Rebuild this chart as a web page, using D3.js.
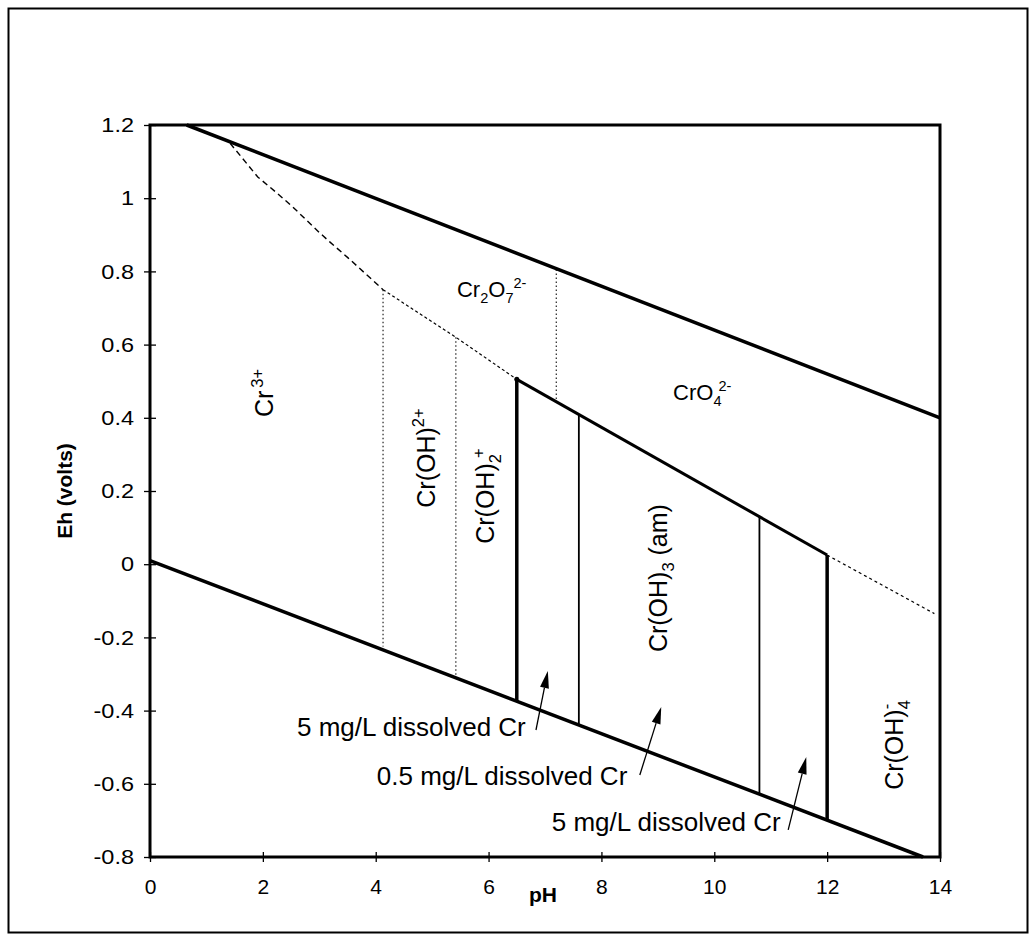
<!DOCTYPE html>
<html><head><meta charset="utf-8">
<script src="https://cdn.jsdelivr.net/npm/d3@7"></script>
<style>
html,body{margin:0;padding:0;background:#fff;}
svg{display:block;}
text{font-family:"Liberation Sans",Arial,Helvetica,sans-serif;fill:#000;}
</style></head><body>
<svg id="chart" width="1033" height="935"></svg>
<script>
// ---------- data ----------
const xDomain = [0, 14];
const yDomain = [-0.8, 1.2];
const xTicks = [0, 2, 4, 6, 8, 10, 12, 14];
const xTickLabels = ["0", "2", "4", "6", "8", "10", "12", "14"];
const yTicks = [-0.8, -0.6, -0.4, -0.2, 0, 0.2, 0.4, 0.6, 0.8, 1, 1.2];
const yTickLabels = ["-0.8", "-0.6", "-0.4", "-0.2", "0", "0.2", "0.4", "0.6", "0.8", "1", "1.2"];
const xLabel = "pH";
const yLabel = "Eh (volts)";

// boundary lines, [pH, Eh]
const upperWaterLine = [[0.65, 1.2], [14, 0.40]];
const lowerWaterLine = [[0, 0.01], [13.7, -0.8]];
const cr3Cr6Boundary = [[1.42, 1.15], [1.91, 1.058], [2.25, 1.014], [2.53, 0.976], [3.01, 0.905], [3.19, 0.88], [3.51, 0.837], [4.13, 0.75]];
const crOHCr6Boundary = [[4.13, 0.75], [5.42, 0.62], [6.5, 0.505]];
const crOH3Top = [[6.5, 0.505], [12.0, 0.025]];
const crOH4Cr6Boundary = [[12.0, 0.025], [13.9, -0.135]];

// vertical boundaries: [pH, Eh top, Eh bottom]
const dottedVerticals = [[4.13, 0.75, -0.225], [5.42, 0.62, -0.315], [7.2, 0.805, 0.45]];
const thickVerticals = [[6.5, 0.505, -0.375], [12.0, 0.025, -0.70]];
const thinVerticals = [[7.6, 0.41, -0.44], [10.8, 0.13, -0.63]];

// species labels: name parts, anchor [pH, Eh]
const rotatedSpecies = [
  {parts: [{t: "Cr"}, {t: "3+", sup: true, dx: 3}], at: [2.18, 0.468]},
  {parts: [{t: "Cr(OH)"}, {t: "2+", sup: true}], at: [5.05, 0.29]},
  {parts: [{t: "Cr(OH)"}, {t: "2", sub: true}, {t: "+", sup: true, dx: -4}], at: [6.10, 0.186]},
  {parts: [{t: "Cr(OH)"}, {t: "3", sub: true}, {t: " (am)"}], at: [9.16, -0.038]},
  {parts: [{t: "Cr(OH)"}, {t: "4", sub: true}, {t: "-", sup: true, dx: -9}], at: [13.34, -0.494]}
];
const flatSpecies = [
  {parts: [{t: "Cr"}, {t: "2", sub: true}, {t: "O"}, {t: "7", sub: true}, {t: "2-", sup: true}], at: [5.44, 0.730]},
  {parts: [{t: "CrO"}, {t: "4", sub: true}, {t: "2-", sup: true, dx: -3}], at: [9.27, 0.449]}
];
// concentration annotations: text, anchor [pH, Eh], arrow tail, arrow head
const notes = ["5 mg/L dissolved Cr", "0.5 mg/L dissolved Cr", "5 mg/L dissolved Cr"];
const noteAnchors = [[2.605, -0.469], [4.02, -0.603], [7.12, -0.728]];
const arrowTails = [[6.84, -0.453], [8.68, -0.576], [11.31, -0.726]];
const arrowHeads = [[7.05, -0.292], [9.06, -0.390], [11.63, -0.527]];

// ---------- drawing ----------
const svg = d3.select("#chart");
const x = d3.scaleLinear().domain(xDomain).range([150, 940]);
const y = d3.scaleLinear().domain(yDomain).range([857, 125]);
const line = d3.line().x(d => x(d[0])).y(d => y(d[1]));

// outer frame
svg.append("rect").attr("x", 8.5).attr("y", 8.5).attr("width", 1019).attr("height", 924)
  .attr("fill", "none").attr("stroke", "#000").attr("stroke-width", 2);

// axes
const ySx = 1.12;
const gy = svg.append("g").attr("transform", `translate(${x(0)},0)`)
  .call(d3.axisLeft(y).tickValues(yTicks).tickFormat((d, i) => yTickLabels[i]).tickSize(6).tickPadding(10));
gy.select(".domain").remove();
gy.selectAll(".tick line").attr("x1", 6).attr("x2", -6).attr("stroke", "#000").attr("stroke-width", 1.3);
gy.selectAll(".tick text").attr("font-size", 21).attr("font-family", "Liberation Sans, Arial, sans-serif").attr("fill", "#000")
  .attr("x", -16 / ySx).attr("transform", `scale(${ySx},1)`);

const gx = svg.append("g").attr("transform", `translate(0,${y(-0.8)})`)
  .call(d3.axisBottom(x).tickValues(xTicks).tickFormat((d, i) => xTickLabels[i]).tickSize(5).tickPadding(17));
gx.select(".domain").remove();
gx.selectAll(".tick line").attr("y1", -5).attr("y2", 5).attr("stroke", "#000").attr("stroke-width", 1.3);
gx.selectAll(".tick text").attr("font-size", 21).attr("font-family", "Liberation Sans, Arial, sans-serif").attr("fill", "#000");

// plot box
svg.append("rect").attr("x", x(0)).attr("y", y(1.2)).attr("width", x(14) - x(0)).attr("height", y(-0.8) - y(1.2))
  .attr("fill", "none").attr("stroke", "#000").attr("stroke-width", 3);

// axis titles
svg.append("text").attr("x", x(7) - 2).attr("y", 902).attr("text-anchor", "middle")
  .attr("font-size", 21).attr("font-weight", "bold").text(xLabel);
svg.append("text").attr("transform", `translate(72,${y(0.2)}) rotate(-90)`).attr("text-anchor", "middle")
  .attr("font-size", 21).attr("font-weight", "bold").text(yLabel);

const plot = svg.append("g").attr("fill", "none").attr("stroke", "#000");

// dotted verticals
plot.selectAll(".dv").data(dottedVerticals).join("line")
  .attr("x1", d => x(d[0])).attr("x2", d => x(d[0])).attr("y1", d => y(d[1])).attr("y2", d => y(d[2]))
  .attr("stroke-width", 1.2).attr("stroke-dasharray", "1.5,2.5").attr("stroke", "#222");

// dashed aqueous boundaries
plot.append("path").datum(cr3Cr6Boundary).attr("d", line).attr("stroke-width", 1.4).attr("stroke-dasharray", "6,4");
plot.append("path").datum(crOHCr6Boundary).attr("d", line).attr("stroke-width", 1.2).attr("stroke-dasharray", "3,2.5");
plot.append("path").datum(crOH4Cr6Boundary).attr("d", line).attr("stroke-width", 1.2).attr("stroke-dasharray", "3,3");

// water lines
plot.append("path").datum(upperWaterLine).attr("d", line).attr("stroke-width", 3.5);
plot.append("path").datum(lowerWaterLine).attr("d", line).attr("stroke-width", 3.5);

// Cr(OH)3 field
plot.append("path").datum(crOH3Top).attr("d", line).attr("stroke-width", 3);
plot.selectAll(".tv").data(thickVerticals).join("line")
  .attr("x1", d => x(d[0])).attr("x2", d => x(d[0])).attr("y1", d => y(d[1])).attr("y2", d => y(d[2]))
  .attr("stroke-width", 3.5);
plot.selectAll(".nv").data(thinVerticals).join("line")
  .attr("x1", d => x(d[0])).attr("x2", d => x(d[0])).attr("y1", d => y(d[1])).attr("y2", d => y(d[2]))
  .attr("stroke-width", 1.8);
svg.append("circle").attr("cx", x(crOH3Top[0][0])).attr("cy", y(crOH3Top[0][1])).attr("r", 2.5).attr("fill", "#000");

// rich text helper
function rich(g, parts, size) {
  const t = g.append("text").attr("font-size", size);
  let off = 0;
  parts.forEach(p => {
    const target = p.sub ? size * 0.28 : p.sup ? -size * 0.42 : 0;
    const fs = (p.sub || p.sup) ? size * 0.66 : size;
    const ts = t.append("tspan").attr("font-size", fs).attr("dy", target - off).text(p.t);
    if (p.dx) ts.attr("dx", p.dx);
    off = target;
  });
  return t;
}

rotatedSpecies.forEach(s => {
  const g = svg.append("g").attr("transform", `translate(${x(s.at[0])},${y(s.at[1])}) rotate(-90)`);
  rich(g, s.parts, 25).attr("text-anchor", "middle");
});
flatSpecies.forEach(s => {
  const g = svg.append("g").attr("transform", `translate(${x(s.at[0])},${y(s.at[1])})`);
  rich(g, s.parts, 22).attr("text-anchor", "start");
});

// notes
notes.forEach((n, i) => {
  svg.append("text").attr("x", x(noteAnchors[i][0])).attr("y", y(noteAnchors[i][1]))
    .attr("font-size", 26).text(n);
});

// arrows
arrowTails.forEach((t, i) => {
  const x0 = x(t[0]), y0 = y(t[1]), x1 = x(arrowHeads[i][0]), y1 = y(arrowHeads[i][1]);
  const ang = Math.atan2(y1 - y0, x1 - x0);
  const L = 17, Hw = 4.5;
  const bx = x1 - L * Math.cos(ang), by = y1 - L * Math.sin(ang);
  svg.append("line").attr("x1", x0).attr("y1", y0).attr("x2", bx).attr("y2", by)
    .attr("stroke", "#000").attr("stroke-width", 1.3);
  const px = -Math.sin(ang), py = Math.cos(ang);
  svg.append("path").attr("d", `M${x1},${y1}L${bx + px * Hw},${by + py * Hw}L${bx - px * Hw},${by - py * Hw}Z`)
    .attr("fill", "#000");
});
</script>
</body></html>
